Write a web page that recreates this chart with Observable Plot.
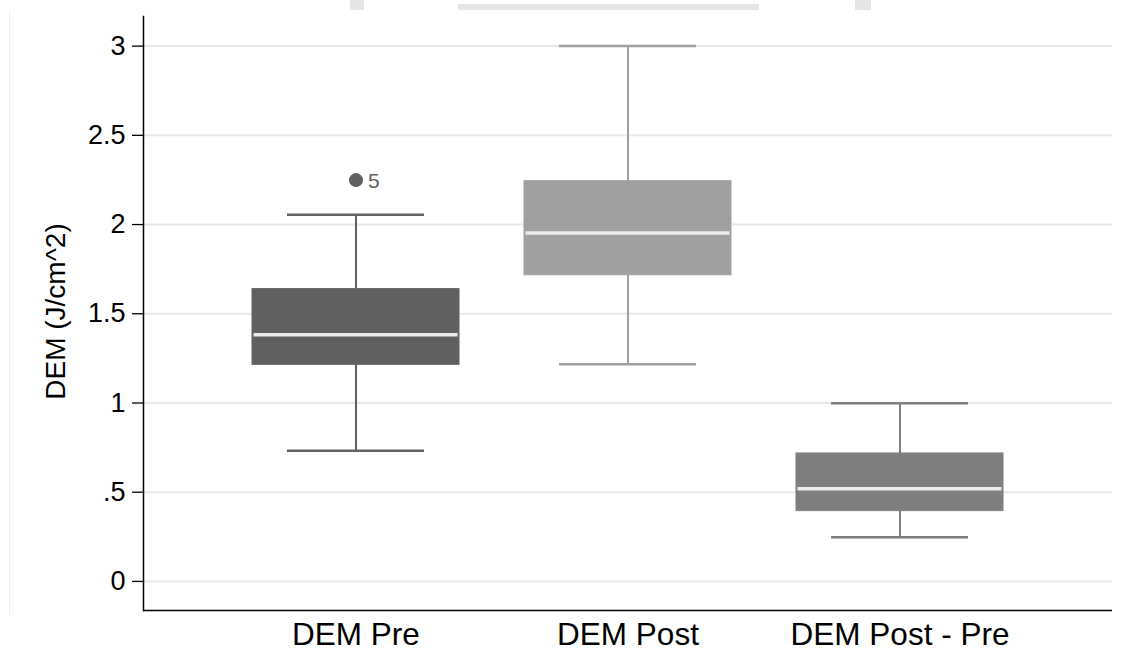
<!DOCTYPE html>
<html>
<head>
<meta charset="utf-8">
<script src="https://cdn.jsdelivr.net/npm/d3@7"></script>
<script src="https://cdn.jsdelivr.net/npm/@observablehq/plot@0.6"></script>
<style>
  html, body { margin: 0; padding: 0; background: #fff; }
  #wrap { position: relative; width: 1130px; height: 651px; overflow: hidden; font-family: "Liberation Sans", Arial, Helvetica, sans-serif; }
  .deco { position: absolute; background: #e6e6e6; }
  svg { display: block; }
</style>
</head>
<body>
<div id="wrap">
  <div class="deco" style="left:350px;top:0;width:14px;height:10px;"></div>
  <div class="deco" style="left:458px;top:4px;width:301px;height:6px;"></div>
  <div class="deco" style="left:855px;top:0;width:16px;height:10px;"></div>
  <div class="deco" style="left:9px;top:10px;width:1px;height:605px;background:#efefef;"></div>
  <div id="chart"></div>
</div>
<script>
// ---- data ----
const categories   = ["DEM Pre", "DEM Post", "DEM Post - Pre"];
const lowerWhisker = [0.732, 1.217, 0.248];
const q1           = [1.214, 1.716, 0.394];
const median       = [1.383, 1.952, 0.520];
const q3           = [1.638, 2.243, 0.717];
const upperWhisker = [2.055, 3.000, 0.998];
const boxColors    = ["#606060", "#a0a0a0", "#7f7f7f"];

const outlierGroup = ["DEM Pre"];
const outlierValue = [2.249];
const outlierLabel = ["5"];

const yTicks = [0, 0.5, 1, 1.5, 2, 2.5, 3];
const yLabel = "DEM (J/cm^2)";

const boxes = categories.map((c, i) => ({
  cat: c, lo: lowerWhisker[i], q1: q1[i], med: median[i], q3: q3[i], hi: upperWhisker[i], color: boxColors[i]
}));
const outliers = outlierGroup.map((g, i) => ({
  cat: g, v: outlierValue[i], label: outlierLabel[i], color: boxColors[categories.indexOf(g)]
}));

const fmt = d => d === 0 ? "0" : String(d).replace(/^0\./, ".");

const chart = Plot.plot({
  width: 1130,
  height: 651,
  marginLeft: 143,
  marginRight: 18,
  marginTop: 16,
  marginBottom: 41,
  style: { fontFamily: "'Liberation Sans', Arial, Helvetica, sans-serif", background: "transparent", color: "#000" },
  x: { domain: categories, paddingInner: 0.2406, paddingOuter: 0.4003, label: null },
  y: { domain: [-0.163, 3.166], label: null },
  marks: [
    Plot.gridY(yTicks, { stroke: "#e8e8e8", strokeOpacity: 1, strokeWidth: 2 }),
    Plot.axisY({ ticks: yTicks, tickFormat: fmt, tickSize: 11, tickPadding: 7, fontSize: 27, strokeWidth: 1.3, label: null }),
    Plot.axisX({ tickSize: 0, tickPadding: 12, fontSize: 31.5, label: null }),
    // whiskers
    Plot.ruleX(boxes, { x: "cat", y1: "lo", y2: "q1", stroke: "color", strokeWidth: 2 }),
    Plot.ruleX(boxes, { x: "cat", y1: "q3", y2: "hi", stroke: "color", strokeWidth: 2 }),
    Plot.tickY(boxes, { x: "cat", y: "lo", stroke: "color", strokeWidth: 2.5, insetLeft: 35, insetRight: 35 }),
    Plot.tickY(boxes, { x: "cat", y: "hi", stroke: "color", strokeWidth: 2.5, insetLeft: 35, insetRight: 35 }),
    // boxes
    Plot.barY(boxes, { x: "cat", y1: "q1", y2: "q3", fill: "color", stroke: "color", strokeWidth: 1 }),
    // medians
    Plot.tickY(boxes, { x: "cat", y: "med", stroke: "#ececec", strokeWidth: 3.5, insetLeft: 1.5, insetRight: 1.5 }),
    // outliers
    Plot.dot(outliers, { x: "cat", y: "v", r: 7, fill: "color", stroke: null }),
    Plot.text(outliers, { x: "cat", y: "v", text: "label", fill: "color", fontSize: 21, textAnchor: "start", dx: 12, dy: 1 }),
    // axis lines
    Plot.ruleY([-0.163], { stroke: "#000", strokeWidth: 1.5 }),
    Plot.frame({ anchor: "left", stroke: "#000", strokeWidth: 1.5 }),
    // y title
    Plot.text([yLabel], { frameAnchor: "left", textAnchor: "middle", lineAnchor: "middle", rotate: -90, dx: -87, dy: -2, fontSize: 28, fill: "#000" })
  ]
});
document.getElementById("chart").appendChild(chart);
</script>
</body>
</html>
